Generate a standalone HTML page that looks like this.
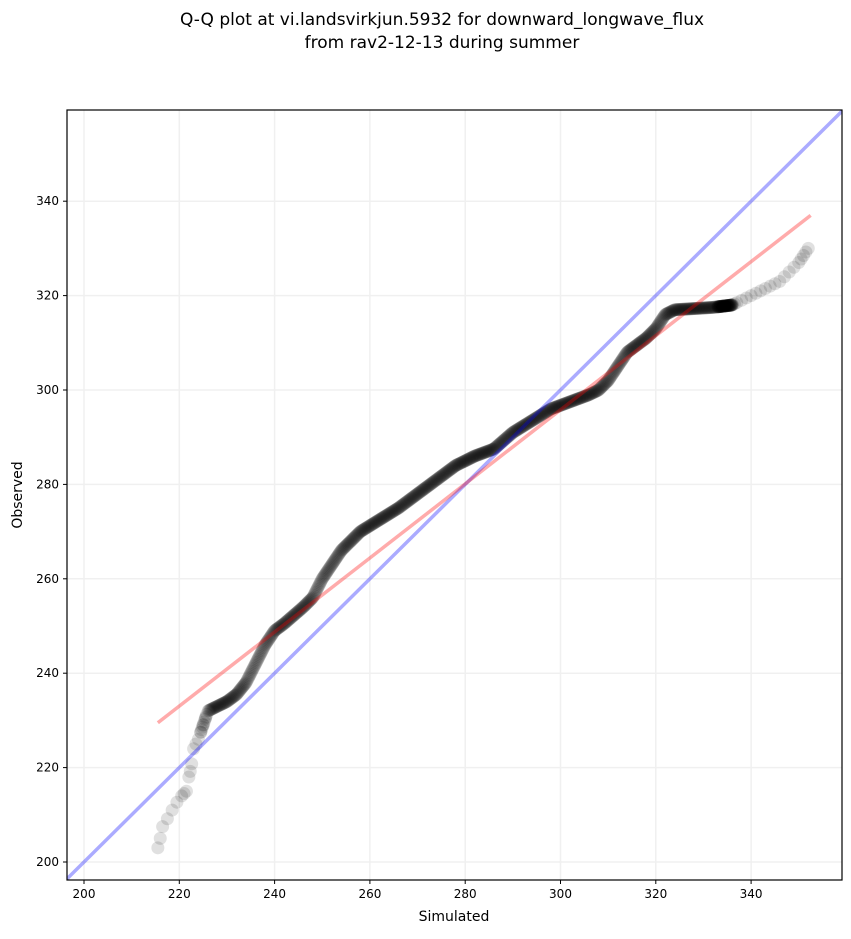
<!DOCTYPE html>
<html><head><meta charset="utf-8"><style>
body{margin:0;background:#fff;width:851px;height:934px;overflow:hidden;font-family:"Liberation Sans","DejaVu Sans",sans-serif}
</style></head><body>
<svg id="s" width="851" height="934" xmlns="http://www.w3.org/2000/svg" font-family="DejaVu Sans, Liberation Sans, sans-serif">
<text x="442" y="25" font-size="17" text-anchor="middle">Q-Q plot at vi.landsvirkjun.5932 for downward_longwave_flux</text>
<text x="442" y="48" font-size="17" text-anchor="middle">from rav2-12-13 during summer</text>
<text x="454" y="921" font-size="14" text-anchor="middle">Simulated</text>
<text x="22" y="495" font-size="14" text-anchor="middle" transform="rotate(-90 22 495)">Observed</text>
<defs><clipPath id="c"><rect x="67" y="110" width="775" height="770"/></clipPath></defs>
<g id="grid"></g>
<g id="pts" clip-path="url(#c)"></g>
<rect x="67" y="110" width="775" height="770" fill="none" stroke="#000" stroke-width="1.2"/>
</svg>
<script>
var ns="http://www.w3.org/2000/svg",s=document.getElementById('s');
function X(v){return 84+(v-200)*4.765}function Y(v){return 862-(v-200)*4.72}
function el(t,a,p){var e=document.createElementNS(ns,t);for(var k in a)e.setAttribute(k,a[k]);(p||s).appendChild(e);return e}
var g=document.getElementById('grid'),P=document.getElementById('pts');
for(var v=200;v<=340;v+=20){
el('line',{x1:X(v),x2:X(v),y1:110,y2:880,stroke:'#f0f0f0','stroke-width':1.5},g);
el('line',{x1:67,x2:842,y1:Y(v),y2:Y(v),stroke:'#f0f0f0','stroke-width':1.5},g);
el('line',{x1:X(v),x2:X(v),y1:880,y2:884,stroke:'#000'},g);
el('line',{x1:63,x2:67,y1:Y(v),y2:Y(v),stroke:'#000'},g);
var t=el('text',{x:X(v),y:898,'font-size':12,'text-anchor':'middle'},g);t.textContent=v;
t=el('text',{x:59,y:Y(v)+4,'font-size':12,'text-anchor':'end'},g);t.textContent=v;}
var c=[[215.5,203],[216,205],[216.5,207.5],[218,210],[219,212],[220.5,214],[221.5,215],[222,218],[222.5,220],[223,224],[224,226],[225,229],[226,232],[228,233],[230,234],[232,235.5],[234,238],[236,242],[238,246],[240,249],[242,250.5],[246,254],[248,256],[250,260],[252,263],[254,266],[256,268],[258,270],[262,272.5],[266,275],[270,278],[274,281],[278,284],[282,286],[286,287.5],[290,291],[294,293.5],[298,296],[302,297.5],[306,299],[308,300],[310,302],[312,305],[314,308],[318,311],[320,313],[322,316],[324,317],[332,317.5],[336,318],[340,320],[344,322],[346,323],[348,325],[350,327],[351,328.5],[352,330]];
function interp(x){for(var i=1;i<c.length;i++){if(x<=c[i][0]){var a=c[i-1],b=c[i];return a[1]+(b[1]-a[1])*(x-a[0])/(b[0]-a[0]);}}return c[c.length-1][1]}
function add(x,op){el('circle',{cx:X(x),cy:Y(interp(x)),r:6.5,fill:'#000','fill-opacity':op},P);}
var N=700,i;
for(i=0;i<N;i++){add(226+(336-226)*(i+0.5)/N,0.12);}
var lo=[215.5,216,216.5,217.5,218.5,219.5,220.5,221,221.5,222,222.3,222.6,223,223.5,224,224.5,225,225.5];
for(i=0;i<lo.length;i++)add(lo[i],0.12);
for(i=0;i<8;i++)add(224.5+i*0.18,0.12);
var hi=[336.5,337,338,339,340,341,342,343,344,345,346,347,348,349,350,350.5,351,351.5,352];
for(i=0;i<hi.length;i++)add(hi[i],0.12);
for(i=0;i<40;i++)add(333+i*0.08,0.1);
el('line',{x1:X(196),y1:Y(196),x2:X(362),y2:Y(362),stroke:'#0000ff','stroke-opacity':0.33,'stroke-width':3.5},P);
el('line',{x1:X(215.5),y1:Y(229.5),x2:X(352.5),y2:Y(337),stroke:'#ff0000','stroke-opacity':0.33,'stroke-width':3.5},P);
</script>
</body></html>
